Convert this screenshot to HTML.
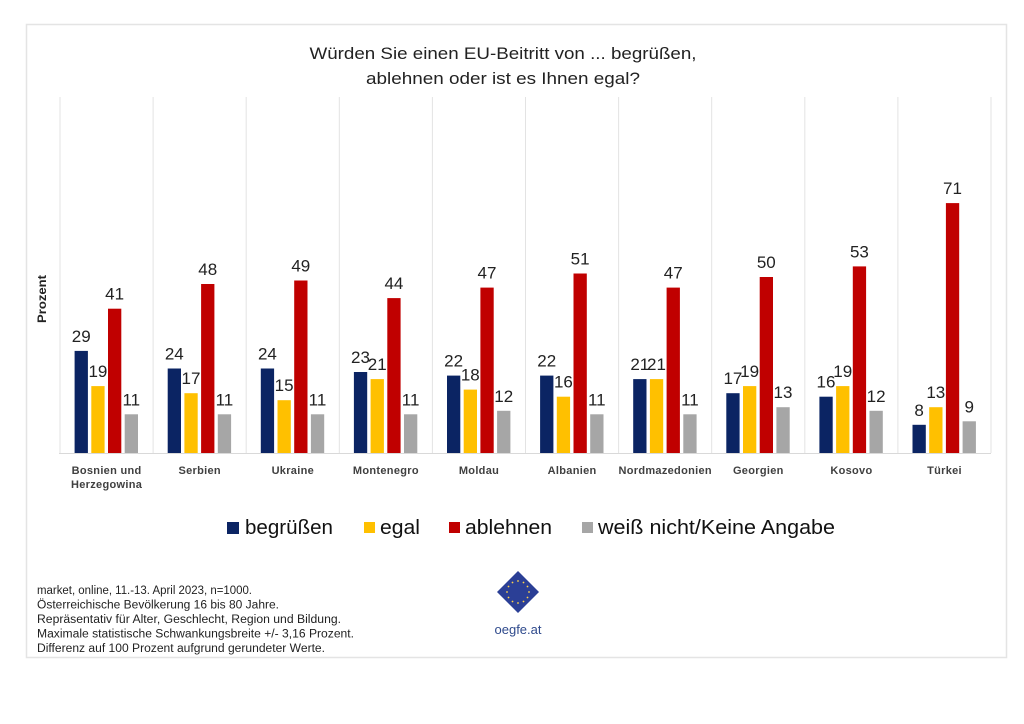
<!DOCTYPE html>
<html>
<head>
<meta charset="utf-8">
<style>
html,body{margin:0;padding:0;background:#fff;}
svg{display:block;}
text{font-family:"Liberation Sans",Arial,sans-serif;}
.v{font-size:17px;fill:#222;text-anchor:middle;}
.c{font-size:11px;font-weight:bold;fill:#404040;text-anchor:middle;letter-spacing:0.3px;}
.lg{font-size:20px;fill:#111;}
.ft{font-size:11.5px;fill:#222;}
</style>
</head>
<body>
<svg width="1024" height="724" viewBox="0 0 1024 724" xmlns="http://www.w3.org/2000/svg">
<rect x="0" y="0" width="1024" height="724" fill="#fff"/>
<rect x="26.5" y="24.5" width="980" height="633" fill="#fff" stroke="#e4e4e4" stroke-width="1.5"/>

<!-- title -->
<text x="503" y="59" font-size="17" fill="#222" text-anchor="middle" textLength="387" lengthAdjust="spacingAndGlyphs">Würden Sie einen EU-Beitritt von ... begrüßen,</text>
<text x="503" y="84" font-size="17" fill="#222" text-anchor="middle" textLength="274" lengthAdjust="spacingAndGlyphs">ablehnen oder ist es Ihnen egal?</text>

<!-- gridlines -->
<g stroke="#e3e3e3" stroke-width="1">
<line x1="60" y1="97" x2="60" y2="453"/>
<line x1="153.1" y1="97" x2="153.1" y2="453"/>
<line x1="246.2" y1="97" x2="246.2" y2="453"/>
<line x1="339.3" y1="97" x2="339.3" y2="453"/>
<line x1="432.4" y1="97" x2="432.4" y2="453"/>
<line x1="525.5" y1="97" x2="525.5" y2="453"/>
<line x1="618.6" y1="97" x2="618.6" y2="453"/>
<line x1="711.7" y1="97" x2="711.7" y2="453"/>
<line x1="804.8" y1="97" x2="804.8" y2="453"/>
<line x1="897.9" y1="97" x2="897.9" y2="453"/>
<line x1="991" y1="97" x2="991" y2="453"/>
</g>
<line x1="59" y1="453.5" x2="991" y2="453.5" stroke="#d9d9d9" stroke-width="1"/>

<!-- y label -->
<text transform="translate(46,299) rotate(-90)" font-size="12" font-weight="bold" fill="#222" text-anchor="middle" textLength="48" lengthAdjust="spacingAndGlyphs">Prozent</text>

<!-- blue bars -->
<g fill="#0b2463">
<rect x="74.6" y="350.9" width="13.3" height="102.1"/>
<rect x="167.7" y="368.5" width="13.3" height="84.5"/>
<rect x="260.8" y="368.5" width="13.3" height="84.5"/>
<rect x="353.9" y="372.0" width="13.3" height="81.0"/>
<rect x="447.0" y="375.6" width="13.3" height="77.4"/>
<rect x="540.1" y="375.6" width="13.3" height="77.4"/>
<rect x="633.2" y="379.1" width="13.3" height="73.9"/>
<rect x="726.3" y="393.2" width="13.3" height="59.8"/>
<rect x="819.4" y="396.7" width="13.3" height="56.3"/>
<rect x="912.5" y="424.8" width="13.3" height="28.2"/>
</g>
<!-- yellow bars -->
<g fill="#ffc000">
<rect x="91.3" y="386.1" width="13.3" height="66.9"/>
<rect x="184.4" y="393.2" width="13.3" height="59.8"/>
<rect x="277.5" y="400.2" width="13.3" height="52.8"/>
<rect x="370.6" y="379.1" width="13.3" height="73.9"/>
<rect x="463.7" y="389.6" width="13.3" height="63.4"/>
<rect x="556.8" y="396.7" width="13.3" height="56.3"/>
<rect x="649.9" y="379.1" width="13.3" height="73.9"/>
<rect x="743.0" y="386.1" width="13.3" height="66.9"/>
<rect x="836.1" y="386.1" width="13.3" height="66.9"/>
<rect x="929.2" y="407.2" width="13.3" height="45.8"/>
</g>
<!-- red bars -->
<g fill="#c00000">
<rect x="108.0" y="308.7" width="13.3" height="144.3"/>
<rect x="201.1" y="284.0" width="13.3" height="169.0"/>
<rect x="294.2" y="280.5" width="13.3" height="172.5"/>
<rect x="387.3" y="298.1" width="13.3" height="154.9"/>
<rect x="480.4" y="287.6" width="13.3" height="165.4"/>
<rect x="573.5" y="273.5" width="13.3" height="179.5"/>
<rect x="666.6" y="287.6" width="13.3" height="165.4"/>
<rect x="759.7" y="277.0" width="13.3" height="176.0"/>
<rect x="852.8" y="266.4" width="13.3" height="186.6"/>
<rect x="945.9" y="203.1" width="13.3" height="249.9"/>
</g>
<!-- gray bars -->
<g fill="#a6a6a6">
<rect x="124.7" y="414.3" width="13.3" height="38.7"/>
<rect x="217.8" y="414.3" width="13.3" height="38.7"/>
<rect x="310.9" y="414.3" width="13.3" height="38.7"/>
<rect x="404.0" y="414.3" width="13.3" height="38.7"/>
<rect x="497.1" y="410.8" width="13.3" height="42.2"/>
<rect x="590.2" y="414.3" width="13.3" height="38.7"/>
<rect x="683.3" y="414.3" width="13.3" height="38.7"/>
<rect x="776.4" y="407.2" width="13.3" height="45.8"/>
<rect x="869.5" y="410.8" width="13.3" height="42.2"/>
<rect x="962.6" y="421.3" width="13.3" height="31.7"/>
</g>

<!-- value labels -->
<g>
<text class="v" x="81.2" y="341.9">29</text>
<text class="v" x="174.3" y="359.5">24</text>
<text class="v" x="267.4" y="359.5">24</text>
<text class="v" x="360.5" y="363.0">23</text>
<text class="v" x="453.6" y="366.6">22</text>
<text class="v" x="546.7" y="366.6">22</text>
<text class="v" x="639.8" y="370.1">21</text>
<text class="v" x="732.9" y="384.2">17</text>
<text class="v" x="826.0" y="387.7">16</text>
<text class="v" x="919.1" y="415.8">8</text>

<text class="v" x="97.9" y="377.1">19</text>
<text class="v" x="191.0" y="384.2">17</text>
<text class="v" x="284.1" y="391.2">15</text>
<text class="v" x="377.2" y="370.1">21</text>
<text class="v" x="470.3" y="380.6">18</text>
<text class="v" x="563.4" y="387.7">16</text>
<text class="v" x="656.5" y="370.1">21</text>
<text class="v" x="749.6" y="377.1">19</text>
<text class="v" x="842.7" y="377.1">19</text>
<text class="v" x="935.8" y="398.2">13</text>

<text class="v" x="114.6" y="299.7">41</text>
<text class="v" x="207.7" y="275.0">48</text>
<text class="v" x="300.8" y="271.5">49</text>
<text class="v" x="393.9" y="289.1">44</text>
<text class="v" x="487.0" y="278.6">47</text>
<text class="v" x="580.1" y="264.5">51</text>
<text class="v" x="673.2" y="278.6">47</text>
<text class="v" x="766.3" y="268.0">50</text>
<text class="v" x="859.4" y="257.4">53</text>
<text class="v" x="952.5" y="194.1">71</text>

<text class="v" x="131.3" y="405.3">11</text>
<text class="v" x="224.4" y="405.3">11</text>
<text class="v" x="317.5" y="405.3">11</text>
<text class="v" x="410.6" y="405.3">11</text>
<text class="v" x="503.7" y="401.8">12</text>
<text class="v" x="596.8" y="405.3">11</text>
<text class="v" x="689.9" y="405.3">11</text>
<text class="v" x="783.0" y="398.2">13</text>
<text class="v" x="876.1" y="401.8">12</text>
<text class="v" x="969.2" y="412.3">9</text>
</g>

<!-- category labels -->
<g>
<text class="c" x="106.6" y="474">Bosnien und</text>
<text class="c" x="106.6" y="488">Herzegowina</text>
<text class="c" x="199.7" y="474">Serbien</text>
<text class="c" x="292.8" y="474">Ukraine</text>
<text class="c" x="385.9" y="474">Montenegro</text>
<text class="c" x="479.0" y="474">Moldau</text>
<text class="c" x="572.1" y="474">Albanien</text>
<text class="c" x="665.2" y="474">Nordmazedonien</text>
<text class="c" x="758.3" y="474">Georgien</text>
<text class="c" x="851.4" y="474">Kosovo</text>
<text class="c" x="944.5" y="474">Türkei</text>
</g>

<!-- legend -->
<rect x="227" y="522" width="12" height="12" fill="#0b2463"/>
<text class="lg" x="245" y="534" textLength="88" lengthAdjust="spacingAndGlyphs">begrüßen</text>
<rect x="364" y="522" width="11" height="11" fill="#ffc000"/>
<text class="lg" x="380" y="534" textLength="40" lengthAdjust="spacingAndGlyphs">egal</text>
<rect x="449" y="522" width="11" height="11" fill="#c00000"/>
<text class="lg" x="465" y="534" textLength="87" lengthAdjust="spacingAndGlyphs">ablehnen</text>
<rect x="582" y="522" width="11" height="11" fill="#a6a6a6"/>
<text class="lg" x="598" y="534" textLength="237" lengthAdjust="spacingAndGlyphs">weiß nicht/Keine Angabe</text>

<!-- footer -->
<text class="ft" x="37" y="594" textLength="215" lengthAdjust="spacingAndGlyphs">market, online, 11.-13. April 2023, n=1000.</text>
<text class="ft" x="37" y="608.5" textLength="242" lengthAdjust="spacingAndGlyphs">Österreichische Bevölkerung 16 bis 80 Jahre.</text>
<text class="ft" x="37" y="623" textLength="304" lengthAdjust="spacingAndGlyphs">Repräsentativ für Alter, Geschlecht, Region und Bildung.</text>
<text class="ft" x="37" y="637.5" textLength="317" lengthAdjust="spacingAndGlyphs">Maximale statistische Schwankungsbreite +/- 3,16 Prozent.</text>
<text class="ft" x="37" y="652" textLength="288" lengthAdjust="spacingAndGlyphs">Differenz auf 100 Prozent aufgrund gerundeter Werte.</text>

<!-- logo -->
<polygon points="518,571 539,592 518,613 497,592" fill="#2b3f96"/>
<g fill="#ffd24a">
<circle cx="518" cy="581" r="0.9"/>
<circle cx="523.5" cy="582.5" r="0.9"/>
<circle cx="527.5" cy="586.5" r="0.9"/>
<circle cx="529" cy="592" r="0.9"/>
<circle cx="527.5" cy="597.5" r="0.9"/>
<circle cx="523.5" cy="601.5" r="0.9"/>
<circle cx="518" cy="603" r="0.9"/>
<circle cx="512.5" cy="601.5" r="0.9"/>
<circle cx="508.5" cy="597.5" r="0.9"/>
<circle cx="507" cy="592" r="0.9"/>
<circle cx="508.5" cy="586.5" r="0.9"/>
<circle cx="512.5" cy="582.5" r="0.9"/>
</g>
<text x="518" y="634" font-size="13" fill="#2f4a8c" text-anchor="middle">oegfe.at</text>
</svg>
</body>
</html>
